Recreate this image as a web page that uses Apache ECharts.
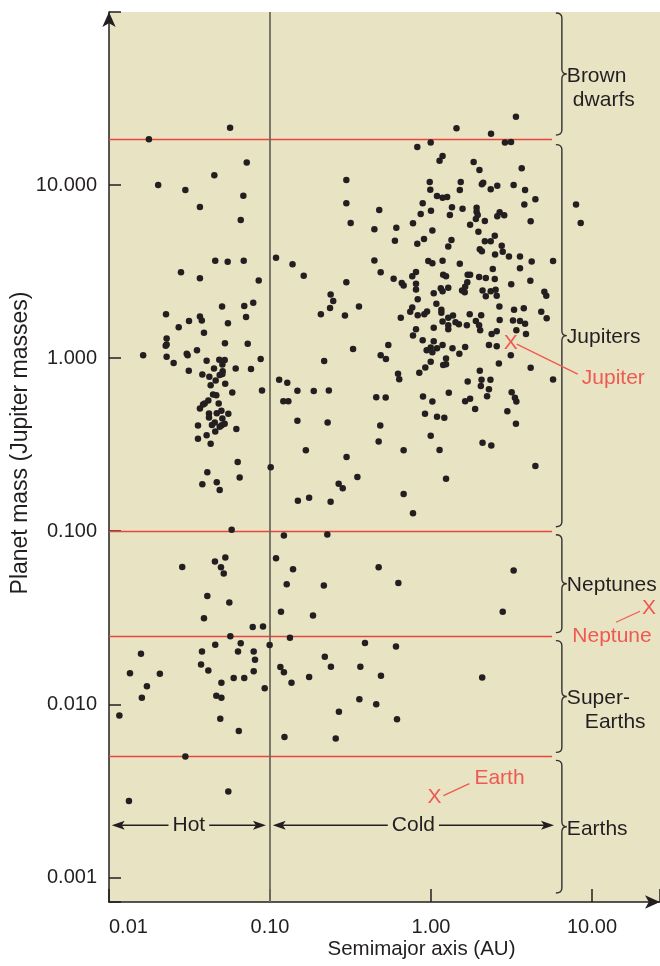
<!DOCTYPE html>
<html><head><meta charset="utf-8">
<script src="https://cdn.jsdelivr.net/npm/echarts@6/dist/echarts.min.js"></script>
<style>html,body{margin:0;padding:0;background:#fff}#c{width:660px;height:966px}</style>
</head><body><div id="c"></div>
<script>
// ---------- DATA (semimajor axis in AU, planet mass in Jupiter masses) ----------
const brownDwarfs = [[0.0177,18.4],[0.0565,21.4],[3.37,24.8],[1.44,21.3],[2.36,19.8]];
const hotJupiters = [[0.0717,13.5],[0.0451,11.4],[0.0202,10.0],[0.0298,9.35],[0.0683,8.67],[0.0367,7.46],[0.0658,6.28],[0.0457,3.65],[0.0546,3.60],[0.0687,3.65],[0.028,3.13],[0.0367,2.89],[0.0851,2.81],
 [0.0504,1.99],[0.0692,2.00],[0.0787,2.09],[0.0226,1.79],[0.0367,1.74],[0.0377,1.65],[0.0314,1.64],[0.0710,1.73],[0.0271,1.51],[0.0548,1.59],[0.0389,1.40],[0.0228,1.30],[0.0228,1.20],[0.0225,1.18],[0.0525,1.22],[0.0727,1.21],[0.0163,1.04],[0.0228,1.02],[0.0304,1.06],[0.0308,1.04],[0.0352,1.11],[0.0252,0.936],[0.0404,0.964],[0.0484,0.978],[0.0523,0.974],[0.0506,0.920],[0.0875,0.987],[0.0313,0.845],[0.0449,0.872],[0.0612,0.872],[0.0762,0.864],[0.0508,0.841],[0.0506,0.809],[0.0487,0.798],[0.0380,0.805],[0.0420,0.780],[0.0460,0.743],[0.0527,0.710],[0.0428,0.698],[0.0892,0.650],[0.0583,0.634],[0.0443,0.617],[0.0464,0.611],[0.0414,0.569],[0.0393,0.547],[0.0384,0.540],[0.0367,0.512],[0.0480,0.547],[0.0418,0.479],[0.0418,0.454],[0.0467,0.481],[0.0499,0.496],[0.0551,0.477],[0.0506,0.448],[0.0523,0.417],[0.0501,0.410],[0.0487,0.401],[0.0454,0.425],[0.0436,0.411],[0.0357,0.408],[0.0618,0.390],[0.0457,0.377],[0.0404,0.359],[0.0357,0.342],[0.0428,0.320],[0.0630,0.251],[0.0408,0.219],[0.0648,0.204],[0.0380,0.187],[0.0467,0.192],[0.0487,0.173],[0.0578,0.102]];
const jupitersInner = [[0.109,3.80],[0.138,3.48],[0.162,2.99],[0.114,0.749],[0.128,0.720],[0.148,0.647],[0.121,0.564],[0.130,0.564],[0.148,0.434],[0.101,0.234],[0.149,0.150],
 [0.822,16.6],[0.996,17.6],[0.298,10.7],[0.298,7.84],[0.317,6.03],[0.477,7.17],[0.982,10.4],[0.990,9.39],[0.888,7.84],[0.863,6.80],[0.445,5.55],[0.609,5.66],[0.597,4.76],[0.773,6.01],[0.822,4.58],[0.905,4.87],[0.445,3.67],[0.487,3.13],[0.298,2.74],[0.586,2.87],[0.658,2.72],[0.676,2.63],[0.807,3.14],[0.765,2.97],[0.807,2.69],[0.807,2.49],[0.827,2.19],[0.962,3.64],[0.238,2.33],[0.247,2.14],[0.236,1.95],[0.207,1.79],[0.292,1.76],[0.357,1.99],[0.649,1.71],[0.765,1.96],[0.743,1.85],[0.827,1.77],[0.909,1.79],[0.945,1.86],
 [0.807,1.47],[0.773,1.35],[0.888,1.27],[0.940,1.11],[0.996,1.15],[0.543,1.19],[0.487,1.04],[0.525,0.987],[0.328,1.13],[0.217,0.961],[0.996,0.952],[0.922,0.884],[0.846,0.822],[0.624,0.811],[0.635,0.756],[0.187,0.645],[0.232,0.650],[0.457,0.595],[0.523,0.593],[0.892,0.601],[0.918,0.477],[0.228,0.425],[0.484,0.408],[0.473,0.330],[0.996,0.356],[0.167,0.294],[0.676,0.294],[0.299,0.268],[0.349,0.206],[0.267,0.188],[0.283,0.177],[0.676,0.164],[0.175,0.156],[0.238,0.148],[0.773,0.127]];
const jupitersMid = [[1.00,7.10],[1.02,5.47],[1.02,3.53],
 [1.18,14.7],[1.13,13.8],[1.84,13.6],[1.53,10.4],[1.51,9.35],[1.09,8.63],[1.18,8.45],[1.26,8.52],[1.35,7.43],[1.31,6.71],[1.57,7.29],[1.92,7.39],[1.92,7.01],[1.95,6.71],[1.90,6.36],[1.75,5.90],[1.97,5.37],[1.34,4.81],[1.28,4.42],[1.18,3.65],[1.51,3.51],[1.19,3.03],[1.24,2.97],[1.69,3.03],[1.75,3.03],[1.99,2.94],[1.68,2.74],[1.04,2.37],[1.15,2.53],[1.18,2.43],[1.28,2.55],[1.63,2.58],[1.56,2.46],[1.62,2.40],[1.08,2.06],[1.16,1.90],[1.16,1.83],[1.37,1.76],[1.28,1.71],[1.74,1.79],
 [1.18,1.63],[1.28,1.55],[1.28,1.47],[1.42,1.61],[1.49,1.57],[1.67,1.55],[1.04,1.50],[1.90,1.64],[1.99,1.55],[1.04,1.25],[1.18,1.19],[1.09,1.14],[1.02,1.08],[1.36,1.14],[1.50,1.06],[1.63,1.16],[1.24,0.996],[1.24,0.923],[1.19,0.912],[1.69,0.733],[1.29,0.630],[1.02,0.562],[1.63,0.564],[1.75,0.582],[1.88,0.509],[1.09,0.458],[1.21,0.452],[1.13,0.295],[1.24,0.201]];
const jupitersOuter = [[2.88,17.6],[3.14,17.7],[2.00,12.2],[3.66,12.5],[2.11,10.3],[2.07,10.1],[2.35,9.44],[2.58,9.91],[3.26,10.0],[3.84,9.35],[4.45,8.27],[3.80,7.73],[2.16,6.19],[2.67,6.95],[2.58,6.59],[2.85,6.68],[4.16,6.17],[2.49,5.09],[2.16,4.73],[2.35,4.73],[2.01,4.25],[2.07,4.14],[2.75,4.46],[2.79,4.11],[2.50,3.97],[3.05,3.87],[3.57,3.87],[4.22,3.62],[5.73,3.64],[2.42,3.27],[3.57,3.30],[2.19,2.90],[2.49,2.86],[4.14,2.80],[3.15,2.67],[2.09,2.46],[2.35,2.43],[2.52,2.48],[2.19,2.28],[2.56,2.29],[5.06,2.42],[5.20,2.29],[2.66,1.99],[3.28,1.90],[3.77,1.94],[2.05,1.77],[4.84,1.85],[5.23,1.70],
 [2.02,1.45],[2.67,1.66],[3.23,1.65],[3.57,1.64],[3.84,1.58],[2.38,1.38],[2.56,1.43],[3.39,1.45],[3.89,1.38],[2.29,1.19],[2.56,1.17],[3.13,1.04],[2.64,0.932],[4.16,0.879],[2.01,0.845],[5.73,0.753],[2.06,0.749],[2.34,0.749],[2.04,0.689],[2.29,0.662],[3.17,0.636],[2.23,0.603],[3.32,0.590],[3.39,0.562],[2.98,0.494],[3.37,0.417],[2.09,0.324],[2.37,0.313],[4.45,0.238],
 [7.96,7.73],[8.51,6.03]];
const neptunes = [[0.122,0.0944],[0.227,0.0957],[0.0285,0.0622],[0.0455,0.0668],[0.0528,0.0705],[0.0496,0.0619],[0.0516,0.0569],[0.109,0.0698],[0.139,0.0603],[0.127,0.0494],[0.216,0.0485],[0.473,0.0619],[0.627,0.0502],[3.26,0.0593],[0.0408,0.0423],[0.0559,0.0387],[0.0389,0.0314],[0.117,0.0342],[0.185,0.0326],[2.79,0.0342],[0.0781,0.0280],[0.0905,0.0282],[0.0567,0.0247]];
const superEarths = [[0.133,0.0242],[0.0995,0.0220],[0.0457,0.0221],[0.0658,0.0225],[0.0158,0.0196],[0.0378,0.0202],[0.0633,0.0202],[0.0792,0.0202],[0.0807,0.0181],[0.389,0.0226],[0.606,0.0216],[0.219,0.0188],[0.239,0.0165],[0.364,0.0165],[0.489,0.0146],[2.08,0.0143],[0.0135,0.0151],[0.0207,0.0150],[0.0373,0.0170],[0.0414,0.0157],[0.0792,0.0155],[0.0595,0.0142],[0.0692,0.0142],[0.0499,0.0133],[0.0927,0.0124],[0.116,0.0164],[0.122,0.0153],[0.136,0.0133],[0.175,0.0144],[0.0172,0.0127],[0.0160,0.0109],[0.0464,0.0112],[0.0499,0.0109],[0.0116,0.00863],[0.0491,0.00826],[0.0640,0.00701],[0.359,0.0107],[0.457,0.0100],[0.268,0.00907],[0.615,0.00819],[0.123,0.00647],[0.256,0.00634],[0.0298,0.00500]];
const earths = [[0.0551,0.00314],[0.0133,0.00276]];

// Solar-system planets (marked with a red X)
const solarPlanets = [[3.13,1.22],[22.6,0.0359],[1.05,0.00289]];
const solarNames = ['Jupiter','Neptune','Earth'];

// Mass-class boundaries (red lines) and class labels
const classBoundaries = [18.3, 0.1, 0.0246, 0.005];
const classLabels = [['Brown','dwarfs'],['Jupiters'],['Neptunes'],['Super-','Earths'],['Earths']];

// Hot / cold split
const hotColdBoundary = 0.1;
const hotColdRanges = [[0.0104, 0.0944],[0.104, 5.81]];
const hotColdNames = ['Hot','Cold'];
const hotColdLevel = 0.002;

// Axis ticks
const xTickValues = [0.01, 0.1, 1, 10];
const xTickLabels = ['0.01','0.10','1.00','10.00'];
const yTickValues = [0.001, 0.01, 0.1, 1, 10];
const yTickLabels = ['0.001','0.010','0.100','1.000','10.000'];
const xMin = 0.01, xMax = 26.45, yMin = 0.000721, yMax = 99.9;

// ---------- STYLE ----------
const ink = '#231f20', beige = '#e8e3c3', red = '#e8473f', redText = '#ee5a52';
const FONT = 'Liberation Sans';
const braceX = 6.5;          // axis position of the braces
const redLineEnd = 5.65;
const braceGaps = [[1,4.5],[5,4.5],[3.5,4],[4,4],[4,9]];
const labelIndents = [[0,6],[0],[0],[0,18],[0]];
const planetOffsets = [
  {line:[6,1,67,31], text:[71,35,'left']},
  {line:[-9,3,-33,14], text:[-37,28,'center']},
  {line:[9,-2,35,-14], text:[40,-19,'left']}
];

function lookup(values, labels, v) {
  let best = 0, d = Infinity;
  values.forEach((t, i) => { const e = Math.abs(Math.log10(t) - Math.log10(v)); if (e < d) { d = e; best = i; } });
  return d < 0.05 ? labels[best] : '';
}

const chart = echarts.init(document.getElementById('c'), null, {renderer:'canvas'});
const dotStyle = {symbol:'circle', symbolSize:6.5, itemStyle:{color:ink, opacity:1}, z:5, silent:true};
const dotSets = [['Brown dwarfs',brownDwarfs],['Hot Jupiters',hotJupiters],['Jupiters 0.1-1 AU',jupitersInner],['Jupiters 1-2 AU',jupitersMid],['Jupiters >2 AU',jupitersOuter],['Neptunes',neptunes],['Super-Earths',superEarths],['Earths',earths]];
const bandEdges = [yMax, ...classBoundaries, yMin];
const bands = bandEdges.slice(0, -1).map((v, i) => [v, bandEdges[i+1]]);

const option = {
  animation: false,
  backgroundColor: '#ffffff',
  textStyle: {fontFamily: FONT},
  grid: {left:109, right:0, top:12, bottom:64, containLabel:false, outerBoundsMode:'none', show:true, backgroundColor:beige, borderWidth:0},
  xAxis: {
    type:'log', logBase:10, min:xMin, max:xMax,
    axisLine:{show:true, symbol:['none','arrow'], symbolSize:[10,15], symbolOffset:[0,0], lineStyle:{color:ink, width:1.5}},
    axisTick:{show:true, inside:true, length:13, lineStyle:{color:ink, width:1.5}},
    axisLabel:{show:true, showMinLabel:true, showMaxLabel:true, alignMinLabel:'left', margin:15, fontSize:20, color:ink, fontFamily:FONT,
      formatter:v => lookup(xTickValues, xTickLabels, v)},
    splitLine:{show:false}, minorTick:{show:false},
    name:'Semimajor axis (AU)', nameLocation:'middle', nameGap:37, nameMoveOverlap:false,
    nameTextStyle:{fontSize:20.5, color:ink, fontFamily:FONT, padding:[0,0,0,74]}
  },
  yAxis: {
    type:'log', logBase:10, min:yMin, max:yMax,
    axisLine:{show:true, symbol:['none','arrow'], symbolSize:[10,15], symbolOffset:[0,0], lineStyle:{color:ink, width:1.5}},
    axisTick:{show:true, inside:true, length:12, lineStyle:{color:ink, width:1.5}},
    axisLabel:{show:true, showMinLabel:true, margin:12, fontSize:20, color:ink, fontFamily:FONT,
      formatter:v => lookup(yTickValues, yTickLabels, v)},
    splitLine:{show:false},
    name:'Planet mass (Jupiter masses)', nameLocation:'middle', nameGap:77, nameMoveOverlap:false,
    nameTextStyle:{fontSize:23, color:ink, fontFamily:FONT, padding:[0,0,0,28]}
  },
  series: [
    {type:'scatter', name:'class lines', data:[], z:1, silent:true,
      markLine:{silent:true, symbol:['none','none'], animation:false, label:{show:false},
        lineStyle:{color:red, width:1.4, type:'solid', opacity:1},
        data: classBoundaries.map(v => [{coord:[xMin, v]}, {coord:[redLineEnd, v]}])}},
    {type:'scatter', name:'hot/cold line', data:[], z:1, silent:true,
      markLine:{silent:true, symbol:['none','none'], animation:false, label:{show:false},
        lineStyle:{color:'#6e6a5f', width:1.8, type:'solid', opacity:1},
        data: [[{coord:[hotColdBoundary, yMax]}, {coord:[hotColdBoundary, yMin]}]]}},
    ...dotSets.map(([name, data]) => Object.assign({type:'scatter', name, data}, dotStyle)),
    {type:'custom', name:'braces', data:bands, z:3, silent:true,
      renderItem:(params, api) => {
        const i = params.dataIndex;
        const pTop = api.coord([braceX, api.value(0)]);
        const pBot = api.coord([braceX, api.value(1)]);
        const xc = pTop[0], y0 = pTop[1] + braceGaps[i][0], y1 = pBot[1] - braceGaps[i][1];
        const ym = (y0 + y1) / 2, r = 5;
        const d = `M${xc-6} ${y0} Q${xc} ${y0} ${xc} ${y0+r} L${xc} ${ym-r} Q${xc} ${ym} ${xc+5} ${ym} Q${xc} ${ym} ${xc} ${ym+r} L${xc} ${y1-r} Q${xc} ${y1} ${xc-6} ${y1}`;
        const children = [{type:'path', shape:{pathData:d}, style:{fill:null, stroke:'#333', lineWidth:1.4}}];
        classLabels[i].forEach((t, k) => children.push({type:'text', style:{text:t, x:xc+5+labelIndents[i][k], y:ym+2+k*24, fill:ink, fontSize:21, fontFamily:FONT, align:'left', verticalAlign:'middle'}}));
        return {type:'group', children};
      }},
    {type:'custom', name:'hot cold', data:hotColdRanges, z:3, silent:true,
      renderItem:(params, api) => {
        const a = api.coord([api.value(0), hotColdLevel]);
        const b = api.coord([api.value(1), hotColdLevel]);
        const y = a[1];
        const L = 13, W = 4.5;
        return {type:'group', children:[
          {type:'line', shape:{x1:a[0]+4, y1:y, x2:b[0]-4, y2:y}, style:{stroke:ink, lineWidth:1.4}},
          {type:'polygon', shape:{points:[[a[0],y],[a[0]+L,y-W],[a[0]+L-3,y],[a[0]+L,y+W]]}, style:{fill:ink}},
          {type:'polygon', shape:{points:[[b[0],y],[b[0]-L,y-W],[b[0]-L+3,y],[b[0]-L,y+W]]}, style:{fill:ink}},
          {type:'text', style:{text:hotColdNames[params.dataIndex], x:(a[0]+b[0])/2, y:y, align:'center', verticalAlign:'middle', fill:ink, fontSize:21, fontFamily:FONT, backgroundColor:beige, padding:[0,4]}}
        ]};
      }},
    {type:'custom', name:'solar system', data:solarPlanets, z:6, silent:true,
      renderItem:(params, api) => {
        const i = params.dataIndex;
        const p = api.coord([api.value(0), api.value(1)]);
        const o = planetOffsets[i];
        return {type:'group', children:[
          {type:'text', style:{text:'X', x:p[0], y:p[1], align:'center', verticalAlign:'middle', fill:redText, fontSize:21, fontFamily:FONT}},
          {type:'line', shape:{x1:p[0]+o.line[0], y1:p[1]+o.line[1], x2:p[0]+o.line[2], y2:p[1]+o.line[3]}, style:{stroke:redText, lineWidth:1.3}},
          {type:'text', style:{text:solarNames[i], x:p[0]+o.text[0], y:p[1]+o.text[1], align:o.text[2], verticalAlign:'middle', fill:redText, fontSize:21, fontFamily:FONT}}
        ]};
      }}
  ]
};
chart.setOption(option);
</script>
</body></html>
